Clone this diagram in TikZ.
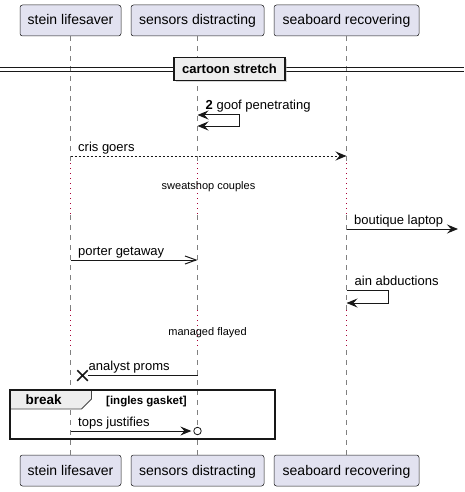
\documentclass[tikz,border=0pt]{standalone}
\usepackage{fontspec}
\setmainfont{Liberation Sans}
\usetikzlibrary{arrows.meta,shapes.misc,shadows}

\definecolor{partfill}{HTML}{E2E2F0}
\definecolor{ink}{HTML}{181818}
\definecolor{delayred}{HTML}{A80036}
\definecolor{groupgray}{HTML}{EEEEEE}

\begin{document}
\begin{tikzpicture}[x=1pt, y=-1pt,
            >={Stealth[length=11pt, width=9pt, inset=4pt]},
            participant/.style={draw=ink, fill=partfill, rounded corners=2.5pt, line width=0.5pt, minimum height=31pt, inner sep=0pt, text height=11pt, text depth=2pt, font=\fontsize{14}{16}\selectfont},
            lifeline/.style={draw=ink!55, line width=0.7pt, dash pattern=on 5pt off 5pt},
            delayline/.style={draw=delayred, line width=1pt, dash pattern=on 1pt off 4pt},
            msg/.style={draw=ink, line width=1pt, ->},
            msgtext/.style={anchor=base west, inner sep=0pt, font=\fontsize{13}{15}\selectfont},
            delaytext/.style={inner sep=0pt, font=\fontsize{11}{13}\selectfont},
            dividerbox/.style={draw=ink, fill=groupgray, line width=1.5pt, minimum width=111pt, minimum height=23pt, inner sep=0pt, font=\bfseries\fontsize{13}{15}\selectfont, drop shadow={shadow xshift=2pt, shadow yshift=-2pt, fill=black!30}}
        ]
        \useasboundingbox (0,0) rectangle (464,492);

        % Participants, once on top and once at the bottom
        \foreach \name/\x/\w [count=\n from 1] in {stein lifesaver/70.5/101, sensors distracting/197.5/133, seaboard recovering/346.5/145} {
                \node[participant, minimum width=\w pt] (top\n) at (\x,20.5) {\name};
                \node[participant, minimum width=\w pt] (bot\n) at (\x,470.5) {\name};
            }

        % Levels where the two delays start and stop
        \coordinate (delayAtop) at (0,163);
        \coordinate (delayAbot) at (0,215);
        \coordinate (delayBtop) at (0,310);
        \coordinate (delayBbot) at (0,350);

        % Lifelines, dotted while delayed
        \foreach \n in {1,...,3} {
                \draw[lifeline] (top\n.south) -- (top\n |- delayAtop);
                \draw[delayline] (top\n |- delayAtop) -- (top\n |- delayAbot);
                \draw[lifeline] (top\n |- delayAbot) -- (top\n |- delayBtop);
                \draw[delayline] (top\n |- delayBtop) -- (top\n |- delayBbot);
                \draw[lifeline] (top\n |- delayBbot) -- (bot\n.north);
            }

        % Divider across the whole width
        \draw[ink, line width=1pt] (0,67.5) -- (464,67.5) (0,71.5) -- (464,71.5);
        \node[dividerbox] (divider) at (229.5,69) {cartoon stretch};

        % Self message on the second lifeline, both ends with a head
        \coordinate (goofOut) at (0,115);
        \coordinate (goofIn) at (0,126);
        \draw[msg, <->] (top2 |- goofOut) -- ++(41.5,0) |- (top2 |- goofIn);
        \node[msgtext] (goofText) at (205.5,109.5) {\textbf{2} goof penetrating};

        % Dashed reply
        \coordinate (cris) at (0,156);
        \draw[msg, dash pattern=on 2pt off 2pt] (top1 |- cris) -- (top3 |- cris);
        \node[msgtext] (crisText) at (78,151.5) {cris goers};

        \node[delaytext] (sweatText) at (208.5,187) {sweatshop couples};

        % Message leaving the picture
        \coordinate (laptop) at (0,229);
        \coordinate (laptopEnd) at (458,229);
        \draw[msg] (top3 |- laptop) -- (laptopEnd);
        \node[msgtext] (laptopText) at (354,224.5) {boutique laptop};

        % Open head
        \coordinate (porter) at (0,260);
        \draw[msg, -{Straight Barb[length=11pt, width=8pt]}] (top1 |- porter) -- (top2 |- porter);
        \node[msgtext] (porterText) at (78,255.5) {porter getaway};

        % Self message on the third lifeline
        \coordinate (ainOut) at (0,290);
        \coordinate (ainIn) at (0,303);
        \draw[msg] (top3 |- ainOut) -- ++(41.5,0) |- (top3 |- ainIn);
        \node[msgtext] (ainText) at (354.5,285.5) {ain abductions};

        \node[delaytext] (flayText) at (207.5,333) {managed flayed};

        % Lost message ending in a cross
        \node[cross out, draw=ink, line width=1.5pt, minimum size=9pt, inner sep=0pt] (killX) at (82.5,375.5) {};
        \draw[ink, line width=1pt] (top2 |- killX) -- (killX);
        \node[msgtext] (promsText) at (88.5,370.5) {analyst proms};

        % Break group
        \filldraw[fill=groupgray, draw=ink!80, line width=0.8pt] (10,390) -- (91.5,390) -- (91.5,399) -- (81.5,409) -- (10,409) -- cycle;
        \draw[ink, line width=1.5pt] (10,390) rectangle (275,439);
        \node[msgtext, font=\bfseries\fontsize{13.5}{15}\selectfont] (breakText) at (25.5,404.3) {break};
        \node[msgtext, font=\bfseries\fontsize{11.5}{13}\selectfont] (guardText) at (106,404.3) {[ingles gasket]};

        \node[circle, draw=ink, fill=white, line width=0.8pt, minimum size=7.5pt, inner sep=0pt] (topsEnd) at (197.5,431) {};
        \draw[msg, shorten >=2pt] (top1 |- topsEnd) -- (topsEnd);
        \node[msgtext] (topsText) at (78,426.5) {tops justifies};
    \end{tikzpicture}
\end{document}
